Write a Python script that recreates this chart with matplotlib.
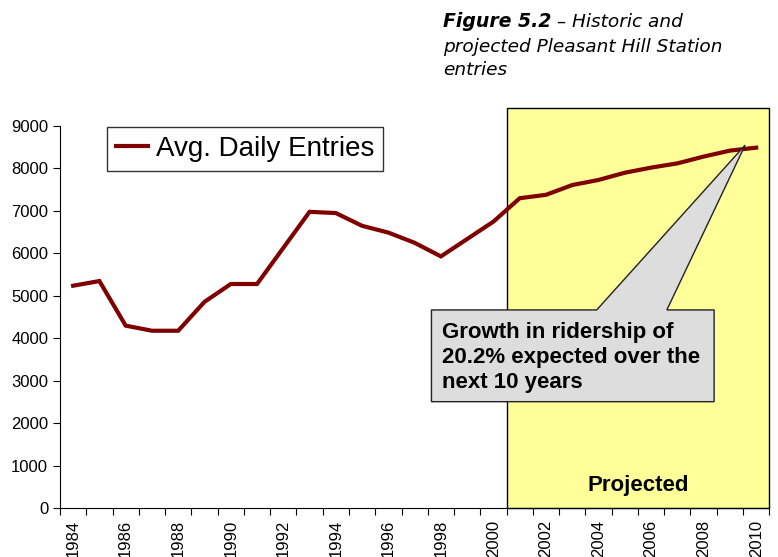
import numpy as np
import matplotlib
matplotlib.use("Agg")
import matplotlib.pyplot as plt
from matplotlib.patches import Rectangle, Polygon

plt.rcParams['font.family'] = ['Liberation Sans', 'DejaVu Sans']

years = list(range(1984, 2011))
entries = [5240, 5350, 4300, 4180, 4180, 4860, 5280, 5280, 6130, 6980,
           6950, 6650, 6490, 6250, 5930, 6340, 6750, 7300, 7380, 7610,
           7730, 7900, 8020, 8120, 8280, 8420, 8490]
series_name = "Avg. Daily Entries"
y_ticks = list(range(0, 10000, 1000))
x_labels = list(range(1984, 2011, 2))
proj_start = 2000.5
callout_text = "Growth in ridership of\n20.2% expected over the\nnext 10 years"

LINE = "#800000"
YELLOW = "#FFFF99"
GRAY = "#DDDDDD"

fig = plt.figure(figsize=(7.78, 5.57), dpi=100)
ax = fig.add_axes([60 / 778, 1 - 508.3 / 557, 709.3 / 778, 382.3 / 557])

xmin, xmax = years[0] - 0.5, years[-1] + 0.5
ax.set_xlim(xmin, xmax)
ax.set_ylim(0, 9000)

# projected region (sticks up above the plot area a bit)
ax.add_patch(Rectangle((proj_start, 0), xmax - proj_start, 9420,
                       facecolor=YELLOW, edgecolor="black", lw=1,
                       clip_on=False, zorder=1))
ax.text((proj_start + xmax) / 2, 540, "Projected", ha="center", va="center",
        fontsize=16, fontweight="bold", zorder=2)

ax.plot(years, entries, color=LINE, lw=3, label=series_name, zorder=3,
        solid_joinstyle="miter")

# callout box with wedge pointing at the 2010 end of the line
tip = (2009.58, 8550)
top, bot = 4670, 2510
bx0, bx1 = 1997.64, 2008.4
shape = [(bx0, top), (2003.93, top), tip, (2006.6, top), (bx1, top),
         (bx1, bot), (bx0, bot)]
ax.add_patch(Polygon(shape, closed=True, facecolor=GRAY, edgecolor="#222222",
                     lw=1, zorder=4))
ax.text(bx0 + 0.42, (top + bot) / 2 - 40, callout_text, ha="left", va="center",
        fontsize=16, fontweight="bold", linespacing=1.28, zorder=5)

ax.spines['top'].set_visible(False)
ax.spines['right'].set_visible(False)
ax.spines['left'].set_zorder(6)
ax.spines['bottom'].set_zorder(6)

ax.set_yticks(y_ticks)
ax.tick_params(axis='y', direction='out', length=5, labelsize=12)

# category boundaries as major ticks, labels on every other year
ax.set_xticks(np.arange(xmin, xmax + 0.01, 1))
ax.set_xticklabels([])
ax.tick_params(axis='x', which='major', direction='out', length=5)
ax.set_xticks(x_labels, minor=True)
ax.set_xticklabels([str(y) for y in x_labels], minor=True, rotation=90)
ax.tick_params(axis='x', which='minor', length=0, labelsize=12, pad=8)

leg = ax.legend(loc="upper left", bbox_to_anchor=(0.066, 0.997),
                borderaxespad=0, fontsize=20, frameon=True, fancybox=False,
                handlelength=1.15, handletextpad=0.3, borderpad=0.32)
leg.get_frame().set_edgecolor("black")
leg.get_frame().set_linewidth(1)

# figure caption, bold-italic label followed by italic text
tx = 443 / 778
t1 = fig.text(tx, 1 - 27 / 557, "Figure 5.2", fontsize=13.6,
              fontweight="bold", style="italic", family="DejaVu Sans",
              va="baseline")
fig.canvas.draw()
bb = t1.get_window_extent()
fig.text(bb.x1 / fig.bbox.width, 1 - 27 / 557, " \u2013 Historic and",
         fontsize=13.3, style="italic", family="DejaVu Sans", va="baseline")
fig.text(tx, 1 - 51.5 / 557, "projected Pleasant Hill Station",
         fontsize=13.3, style="italic", family="DejaVu Sans", va="baseline")
fig.text(tx, 1 - 75 / 557, "entries",
         fontsize=13.3, style="italic", family="DejaVu Sans", va="baseline")

fig.savefig("out.png", dpi=100)
